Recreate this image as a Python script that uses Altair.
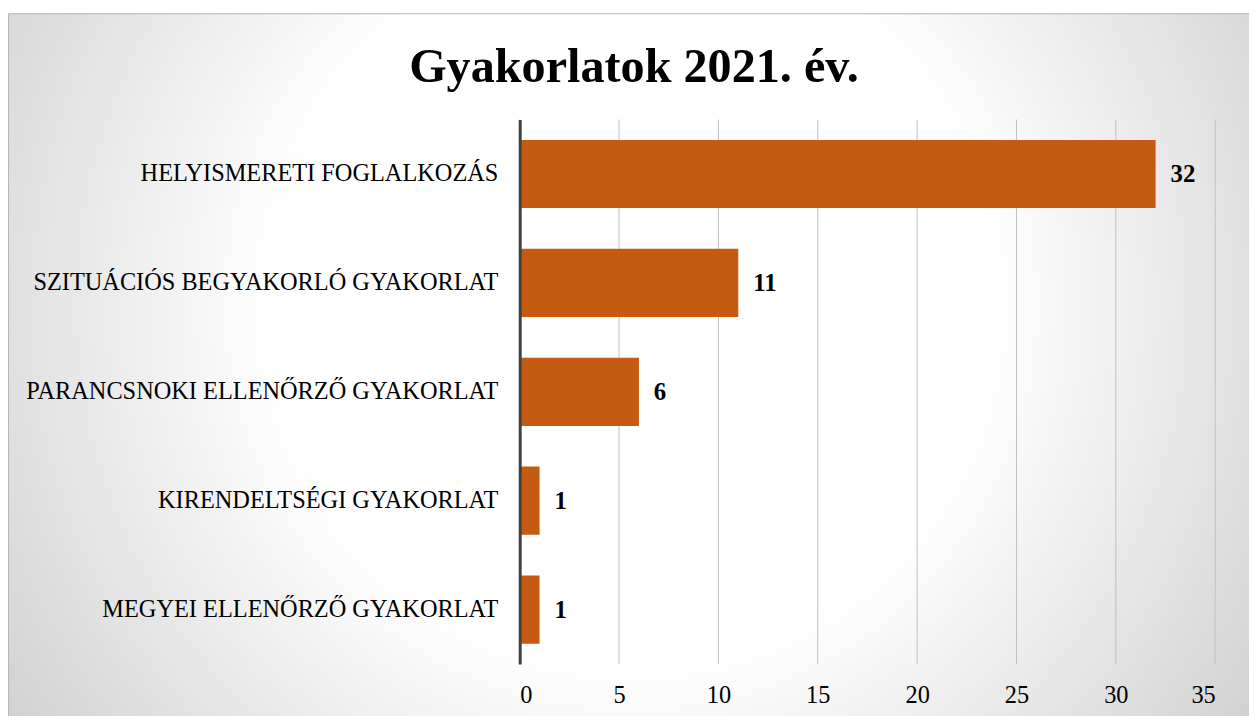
import altair as alt
import pandas as pd

categories = [
    "HELYISMERETI FOGLALKOZÁS",
    "SZITUÁCIÓS BEGYAKORLÓ GYAKORLAT",
    "PARANCSNOKI ELLENŐRZŐ GYAKORLAT",
    "KIRENDELTSÉGI GYAKORLAT",
    "MEGYEI ELLENŐRZŐ GYAKORLAT",
]
values = [32, 11, 6, 1, 1]
title_text = "Gyakorlatok 2021. év."
x_ticks = [0, 5, 10, 15, 20, 25, 30, 35]

df = pd.DataFrame({"cat": categories, "val": values})
one = pd.DataFrame({"t": [title_text]})
ticks_df = pd.DataFrame({"v": x_ticks})

W, H = 700, 548
PL, PT = 515, 110
CW, CH = 1249, 708
FONT = "Liberation Serif"

bg_fill = {
    "gradient": "radial",
    "x1": 0.5, "y1": 0.45, "r1": 0,
    "x2": 0.5, "y2": 0.45, "r2": 0.72,
    "stops": [
        {"offset": 0, "color": "#ffffff"},
        {"offset": 0.4, "color": "#ffffff"},
        {"offset": 1, "color": "#c0c0c0"},
    ],
}

bg = alt.Chart(one).mark_rect(fill=bg_fill, stroke="#b5b5b5", strokeWidth=1, clip=False).encode(
    x=alt.value(-PL + 0.5), x2=alt.value(CW - PL + 5),
    y=alt.value(3 - PT + 0.5), y2=alt.value(CH - PT + 5),
)

xscale = alt.Scale(domain=[0, 35], nice=False)
xaxis = alt.Axis(values=x_ticks, labelFont=FONT, labelFontSize=24.5,
                 labelColor="#000000", labelPadding=20, ticks=False,
                 domain=False, grid=False, zindex=1)

grid = alt.Chart(ticks_df).mark_rule(color="#bfbfbf", strokeWidth=1).encode(
    x=alt.X("v:Q", scale=xscale, axis=xaxis, title=None),
    y=alt.value(0), y2=alt.value(H),
)

yenc = alt.Y("cat:N", sort=categories, title=None,
             scale=alt.Scale(paddingInner=0.374, paddingOuter=0.187),
             axis=alt.Axis(labelFont=FONT, labelFontSize=24.5, labelColor="#000000",
                           labelPadding=22, ticks=False, domainColor="#404040",
                           domainWidth=3, labelLimit=600, grid=False, zindex=1))

bars = alt.Chart(df).mark_bar(color="#C55A11").encode(
    x=alt.X("val:Q", title=None), y=yenc)
labels = alt.Chart(df).mark_text(align="left", dx=15, font=FONT, fontSize=25,
                                 fontWeight="bold", color="#000000").encode(
    x="val:Q", y=alt.Y("cat:N", sort=categories), text="val:Q")

title = alt.Chart(one).mark_text(font=FONT, fontSize=48.5, fontWeight="bold",
                                 color="#000000", baseline="alphabetic",
                                 align="center", clip=False).encode(
    x=alt.value(630 - PL), y=alt.value(72 - PT), text="t:N")

chart = alt.layer(bg, grid, bars, labels, title).properties(
    width=W, height=H,
    autosize=alt.AutoSizeParams(type="none"),
    padding={"left": PL, "top": PT, "right": CW - PL - W, "bottom": CH - PT - H},
).configure_view(stroke=None).configure(background="#ffffff")

chart.save("out.html", embed_options={"renderer": "svg", "actions": False})
